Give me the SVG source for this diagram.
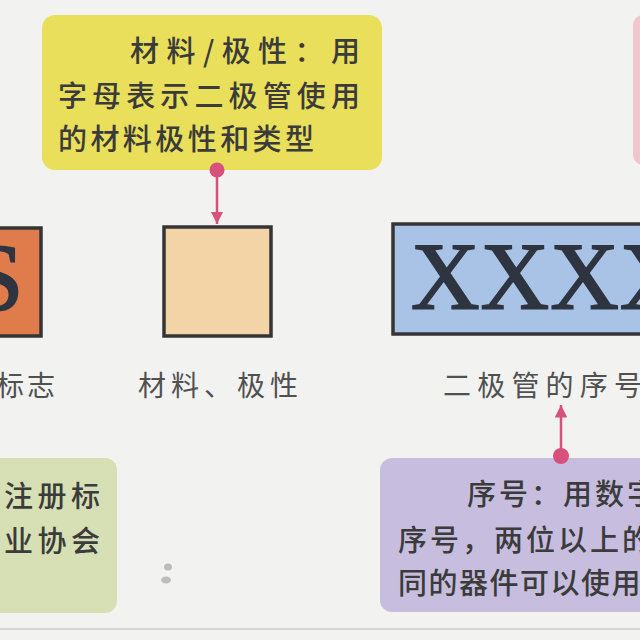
<svg xmlns="http://www.w3.org/2000/svg" width="640" height="640" viewBox="0 0 640 640">
<defs>
<style>
.cjk{font-family:"Noto Sans CJK SC","Noto Sans",sans-serif;fill:#3b3b3b;font-weight:500;font-size:29px}
.lab{font-family:"Noto Sans CJK SC","Noto Sans",sans-serif;fill:#505050;font-weight:400;font-size:28px}
.ser{font-family:"Liberation Serif","Times New Roman",serif;fill:#2e3440;stroke:#2e3440;stroke-width:1.8}
.box{stroke:#353535;stroke-width:3.5}
.con{stroke:#d8507c;stroke-width:2.5;fill:none}
</style>
<marker id="ah" viewBox="0 0 10 10" refX="10" refY="5" markerWidth="5" markerHeight="5" orient="auto" markerUnits="strokeWidth">
<path d="M0,0 L10,5 L0,10 Z" fill="#d8507c"/>
</marker>
</defs>
<rect x="0" y="0" width="640" height="640" fill="#f2f2f0"/>
<line x1="0" y1="629" x2="640" y2="629" stroke="#d6d6d4" stroke-width="2"/>
<ellipse cx="168" cy="567" rx="4" ry="3.5" fill="#9a9a9a" opacity="0.6"/>
<ellipse cx="166" cy="580" rx="5" ry="3.5" fill="#9a9a9a" opacity="0.6"/>

<g id="note-material">
<rect x="42" y="15" width="340" height="155" rx="13" fill="#e9df5a"/>
<text class="cjk" x="130" y="62" textLength="230" lengthAdjust="spacing">材料/极性：用</text>
<text class="cjk" x="58" y="107" textLength="302" lengthAdjust="spacing">字母表示二极管使用</text>
<text class="cjk" x="58" y="150" textLength="256" lengthAdjust="spacing">的材料极性和类型</text>
</g>

<g id="note-pink">
<rect x="633" y="15" width="30" height="150" rx="10" fill="#f0c6cf"/>
</g>

<g id="box-s">
<rect x="-10" y="228" width="51" height="108" class="box" fill="#e07b4c"/>
<text class="ser" x="-30" y="310" font-size="96">S</text>
<text class="lab" x="-4" y="396" letter-spacing="3">标志</text>
</g>

<g id="box-material">
<rect x="164" y="227" width="107" height="109" class="box" fill="#f3d4a6"/>
<text class="lab" x="138" y="396" textLength="160" lengthAdjust="spacing">材料、极性</text>
</g>

<g id="box-serial">
<rect x="393" y="224" width="260" height="110" class="box" fill="#a9c3e6"/>
<text class="ser" x="411" y="309" font-size="95" letter-spacing="1">XXXX</text>
<text class="lab" x="443" y="396" textLength="199" lengthAdjust="spacing">二极管的序号</text>
</g>

<g id="note-trademark">
<rect x="-20" y="458" width="137" height="155" rx="12" fill="#d7dfb5"/>
<text class="cjk" x="4" y="507" textLength="96" lengthAdjust="spacing">注册标</text>
<text class="cjk" x="4" y="552" textLength="96" lengthAdjust="spacing">业协会</text>
</g>

<g id="note-serial">
<rect x="380" y="458" width="290" height="154" rx="12" fill="#c7bedf"/>
<text class="cjk" x="467" y="505" letter-spacing="3">序号：用数字</text>
<text class="cjk" x="398" y="551" letter-spacing="3">序号，两位以上的</text>
<text class="cjk" x="398" y="594" letter-spacing="1.5">同的器件可以使用</text>
</g>

<g id="connectors">
<line class="con" x1="217" y1="172" x2="217" y2="224" marker-end="url(#ah)"/>
<circle cx="217" cy="170" r="7.5" fill="#d8507c"/>
<line class="con" x1="561" y1="455" x2="561" y2="405" marker-end="url(#ah)"/>
<circle cx="561" cy="456" r="8" fill="#d8507c"/>
</g>
</svg>
